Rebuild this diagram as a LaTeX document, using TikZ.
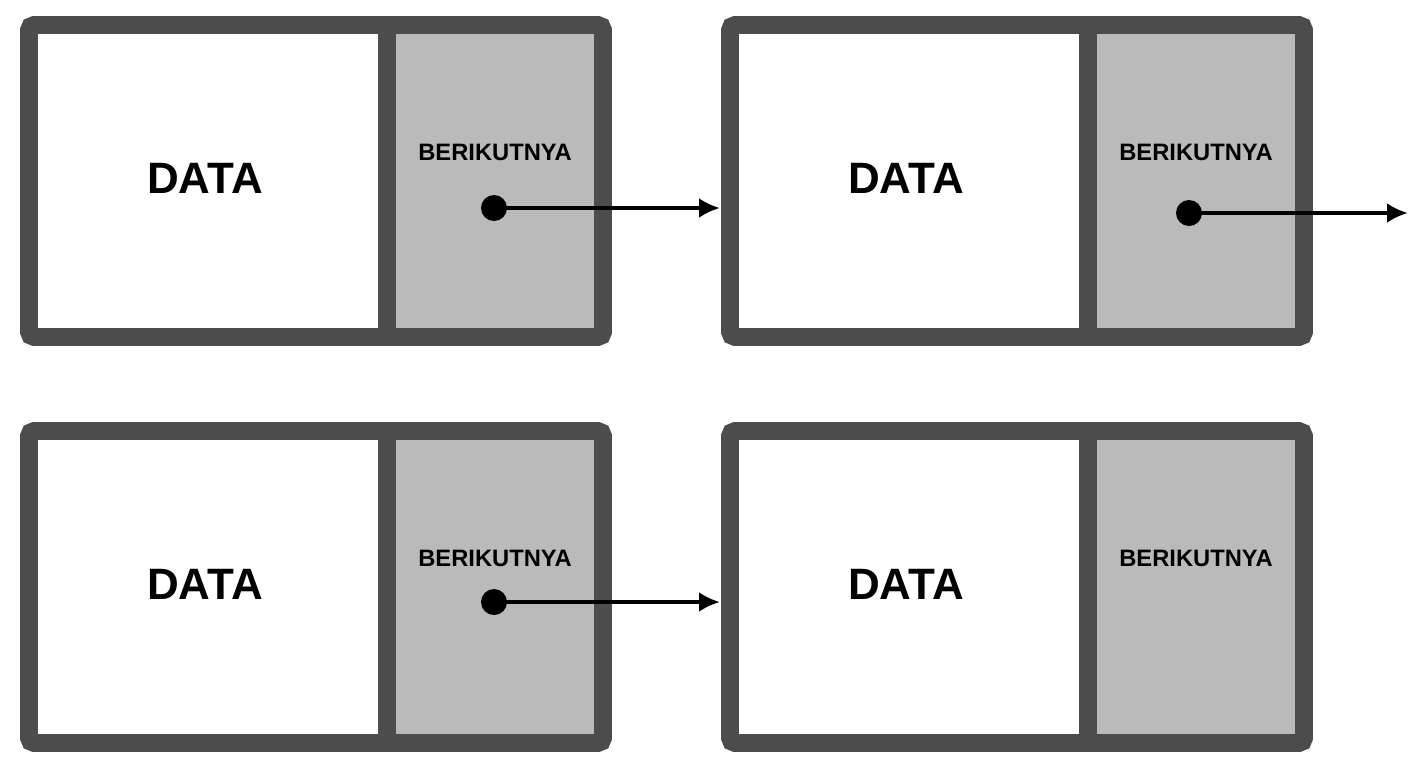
\documentclass[tikz,border=0pt]{standalone}
\usepackage{fontspec}
\setmainfont{Liberation Sans}
\usetikzlibrary{arrows.meta}
\tikzset{
  frame/.style={draw=black!70,line width=10.2pt,rounded corners=3pt},
  nextcell/.style={fill=black!27},
  sep/.style={draw=black!70,line width=10.2pt},
  datalabel/.style={font=\bfseries\fontsize{25}{25}\selectfont},
  nextlabel/.style={font=\bfseries\fontsize{13.5}{14}\selectfont},
  dot/.style={circle,fill=black,inner sep=0pt,minimum size=0.52cm},
  link/.style={line width=2.6pt,-{Latex[length=0.42cm,width=0.4cm]}}
}
\newcommand{\listnode}[3]{% name, x, y (top-left pixel)
  \fill[nextcell] (#2+369,#3) rectangle (#2+574,#3+330);
  \draw[sep] (#2+367,#3+9) -- (#2+367,#3+321);
  \draw[frame] (#2+9,#3+9) rectangle (#2+583,#3+321);
  \node[datalabel] (#1d) at (#2+185,#3+162) {DATA};
  \node[nextlabel] (#1n) at (#2+475,#3+136) {BERIKUTNYA};
}
\begin{document}
\begin{tikzpicture}[x=0.02cm,y=-0.02cm]
  \useasboundingbox (0,0) rectangle (1408,768);
  \listnode{a}{20}{16}
  \listnode{b}{721}{16}
  \listnode{c}{20}{422}
  \listnode{d}{721}{422}
  % pointers
  \node[dot] (pa) at (494,208) {};
  \node[dot] (pb) at (1189,213) {};
  \node[dot] (pc) at (494,602) {};
  \coordinate (ea) at (720,208);
  \coordinate (eb) at (1408,213);
  \coordinate (ec) at (720,602);
  \draw[link] (pa.center) -- (ea);
  \draw[link] (pb.center) -- (eb);
  \draw[link] (pc.center) -- (ec);
\end{tikzpicture}
\end{document}
